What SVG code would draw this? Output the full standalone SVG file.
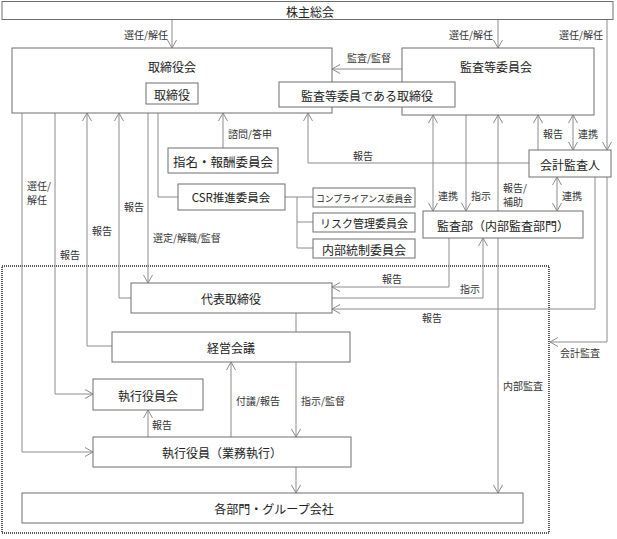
<svg xmlns="http://www.w3.org/2000/svg" width="617" height="539" viewBox="0 0 617 539">
<defs>
<style>
.n rect{fill:#fff;stroke:#6e6e6e;stroke-width:1}
.n text{font-family:"Noto Sans CJK JP","Noto Sans",sans-serif;font-size:12px;fill:#222;text-anchor:middle;dominant-baseline:central}
.c path{fill:none;stroke:#8c8c8c;stroke-width:1}
.a{marker-end:url(#ah)}
.b{marker-start:url(#ah);marker-end:url(#ah)}
.l text{font-family:"Noto Sans CJK JP","Noto Sans",sans-serif;font-size:10px;fill:#333;dominant-baseline:central}
.dot{fill:none;stroke:#222;stroke-width:1.5;stroke-dasharray:1 1}
</style>
<marker id="ah" viewBox="0 0 10 10" refX="10" refY="5" markerWidth="10" markerHeight="10" markerUnits="userSpaceOnUse" orient="auto-start-reverse">
<path d="M2,0.5 L10,5 L2,9.5" fill="none" stroke="#8c8c8c" stroke-width="1"/>
</marker>
</defs>
<rect width="617" height="539" fill="#fff"/>
<rect class="dot" x="2" y="266" width="547" height="267"/>

<g id="connectors" class="c">
<path class="a" d="M172,19.5V48"/>
<path class="a" d="M498,19.5V48"/>
<path class="a" d="M607,19.5V150"/>
<path class="a" d="M402,69H332"/>
<path class="a" d="M223,148V113"/>
<path class="a" d="M529,163H308V113"/>
<path class="a" d="M538,150V115"/>
<path class="b" d="M573,115V150"/>
<path class="b" d="M433,115V211"/>
<path class="a" d="M466,115V211"/>
<path class="a" d="M498,211V115"/>
<path class="b" d="M557,177V211"/>
<path class="a" d="M595,177V309H332"/>
<path class="a" d="M607,177V342H550"/>
<path class="a" d="M449,238V287H332"/>
<path class="a" d="M332,298H483V238"/>
<path class="a" d="M498,238V493"/>
<path class="a" d="M22,113V452H93"/>
<path class="a" d="M55,113V394H93"/>
<path class="a" d="M112,346H87V113"/>
<path class="a" d="M131,298H119V113"/>
<path class="a" d="M148,113V283"/>
<path d="M158,113V197H178"/>
<path d="M285,197H313M297,197V248H313M297,222H313"/>
<path d="M296,313V332"/>
<path class="a" d="M296,362V437"/>
<path class="a" d="M231,437V362"/>
<path class="a" d="M148,437V410"/>
<path class="a" d="M296,467V493"/>
</g>

<g id="labels" class="l">
<text x="168" y="34" text-anchor="end">選任/解任</text>
<text x="493" y="34" text-anchor="end">選任/解任</text>
<text x="603" y="34" text-anchor="end">選任/解任</text>
<text x="369" y="57" text-anchor="middle">監査/監督</text>
<text x="228" y="133">諮問/答申</text>
<text x="353" y="155">報告</text>
<text x="543" y="133">報告</text>
<text x="578" y="133">連携</text>
<text x="438" y="195">連携</text>
<text x="471" y="195">指示</text>
<text x="503" y="187">報告/</text>
<text x="503" y="201">補助</text>
<text x="562" y="195">連携</text>
<text x="422" y="317">報告</text>
<text x="560" y="352">会計監査</text>
<text x="382" y="278">報告</text>
<text x="460" y="288">指示</text>
<text x="503" y="385">内部監査</text>
<text x="27" y="185">選任/</text>
<text x="27" y="199">解任</text>
<text x="60" y="254">報告</text>
<text x="92" y="230">報告</text>
<text x="124" y="206">報告</text>
<text x="153" y="237">選定/解職/監督</text>
<text x="236" y="400">付議/報告</text>
<text x="301" y="400">指示/監督</text>
<text x="152" y="424">報告</text>
</g>

<g id="n-shareholders" class="n"><rect x="2" y="1.5" width="611" height="18"/><text x="310" y="11">株主総会</text></g>
<g id="n-board" class="n"><rect x="12" y="48" width="320" height="65"/><text x="172" y="66">取締役会</text></g>
<g id="n-director" class="n"><rect x="146" y="83" width="52" height="21"/><text x="172" y="94">取締役</text></g>
<g id="n-auditcommittee" class="n"><rect x="402" y="48" width="192" height="67"/><text x="496" y="66">監査等委員会</text></g>
<g id="n-auditdirector" class="n"><rect x="279" y="82" width="176" height="25"/><text x="367" y="95">監査等委員である取締役</text></g>
<g id="n-accountant" class="n"><rect x="529" y="150" width="82" height="27"/><text x="570" y="164">会計監査人</text></g>
<g id="n-nomination" class="n"><rect x="168" y="148" width="110" height="25"/><text x="223" y="161" style="font-size:12.5px">指名・報酬委員会</text></g>
<g id="n-csr" class="n"><rect x="178" y="184" width="107" height="26"/><text x="231" y="197" style="font-size:11.5px">CSR推進委員会</text></g>
<g id="n-compliance" class="n"><rect x="313" y="188" width="102" height="19"/><text x="364" y="198" style="font-size:8.8px">コンプライアンス委員会</text></g>
<g id="n-risk" class="n"><rect x="313" y="213" width="102" height="19"/><text x="364" y="223" style="font-size:11px">リスク管理委員会</text></g>
<g id="n-internalcontrol" class="n"><rect x="313" y="239" width="102" height="19"/><text x="364" y="249">内部統制委員会</text></g>
<g id="n-auditdept" class="n"><rect x="423" y="211" width="160" height="27"/><text x="503" y="225">監査部（内部監査部門）</text></g>
<g id="n-ceo" class="n"><rect x="131" y="283" width="201" height="30"/><text x="231" y="298">代表取締役</text></g>
<g id="n-management" class="n"><rect x="112" y="332" width="238" height="30"/><text x="231" y="347">経営会議</text></g>
<g id="n-execcommittee" class="n"><rect x="93" y="379" width="110" height="31"/><text x="148" y="395">執行役員会</text></g>
<g id="n-executive" class="n"><rect x="93" y="437" width="258" height="30"/><text x="222" y="452">執行役員（業務執行）</text></g>
<g id="n-divisions" class="n"><rect x="22" y="493" width="501" height="30"/><text x="274" y="508">各部門・グループ会社</text></g>
</svg>
